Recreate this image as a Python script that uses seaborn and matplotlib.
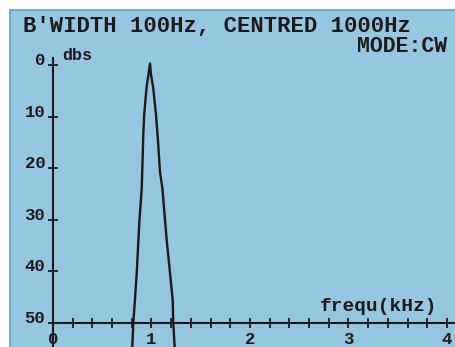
import matplotlib
matplotlib.use("Agg")
import matplotlib.pyplot as plt
import matplotlib.patches as patches
import numpy as np
import pandas as pd
import seaborn as sns

# spectrum trace (kHz, dB below peak)
freq_khz = [0.802, 0.815, 0.832, 0.850, 0.876, 0.901, 0.911, 0.917, 0.927, 0.951, 0.985,
            0.995, 1.018, 1.046, 1.069, 1.086, 1.110, 1.154, 1.188, 1.215, 1.221, 1.239]
level_db = [56.0, 50.0, 45.5, 40.3, 30.6, 23.8, 17.4, 13.2, 9.3, 4.2, -0.3,
            1.9, 4.5, 9.7, 15.5, 20.7, 23.8, 33.9, 40.3, 45.5, 50.0, 56.0]
y_ticks = [0, 10, 20, 30, 40, 50]
x_ticks = [0, 1, 2, 3, 4]
x_minor = [0.2 * i for i in range(21)]

title = "B'WIDTH 100Hz, CENTRED 1000Hz"
mode = "MODE:CW"
ink = "#1b1b1b"
screen = "#97c7e0"

sns.set_theme(style="white")
plt.rcParams["font.family"] = ["Liberation Mono", "DejaVu Sans Mono"]
plt.rcParams["font.weight"] = "bold"

W, H = 455, 347
fig = plt.figure(figsize=(W / 100, H / 100), dpi=100)
fig.patch.set_facecolor("white")
fig.patches.append(patches.Rectangle((10 / W, -0.05), 1.1, 1 - 10 / H + 0.05,
                                     transform=fig.transFigure, facecolor=screen,
                                     edgecolor="#5b9fc6", linewidth=1.2, zorder=-5))

ax = fig.add_axes([0, 0, 1, 1])
ax.set_zorder(2)
ax.set_facecolor("none")
df = pd.DataFrame({"freq": freq_khz, "db": level_db})
sns.lineplot(data=df, x="freq", y="db", sort=False, estimator=None,
             color=ink, linewidth=1.7, ax=ax)

# pixel mapping: 0 kHz at x=53, 98.5 px/kHz; 0 dB at y=65, 5.16 px/dB
ax.set_xlim(-53 / 98.5, (W - 53) / 98.5)
ax.set_ylim((H - 65) / 5.16, -65 / 5.16)

for s in ["top", "right"]:
    ax.spines[s].set_visible(False)
ax.spines["left"].set_position(("data", 0))
ax.spines["bottom"].set_position(("data", 50))
ax.spines["left"].set_bounds(-1.4, 60)
ax.spines["bottom"].set_bounds(0, 5)
for s in ["left", "bottom"]:
    ax.spines[s].set_color(ink)
    ax.spines[s].set_linewidth(1.5)

ax.set_yticks(y_ticks)
ax.set_yticklabels([str(v) for v in y_ticks], fontsize=12.5, color=ink)
for lbl in ax.get_yticklabels():
    lbl.set_va("baseline")
ax.set_xticks(x_ticks)
ax.set_xticklabels([str(v) for v in x_ticks], fontsize=12.5, color=ink)
ax.set_xticks(x_minor, minor=True)
ax.tick_params(axis="both", which="both", direction="inout", length=7,
               width=1.3, color=ink, left=True, bottom=True)
ax.tick_params(axis="y", pad=2)
ax.tick_params(axis="x", pad=3)
ax.set_xlabel("")
ax.set_ylabel("")

fig.text(23 / W, 1 - 32 / H, title, fontsize=16, color=ink, va="baseline")
fig.text(447 / W, 1 - 52 / H, mode, fontsize=15.5, color=ink, va="baseline", ha="right")
fig.text(62 / W, 1 - 60 / H, "dbs", fontsize=12, color=ink, va="baseline")
fig.text(437 / W, 1 - 311 / H, "frequ(kHz)", fontsize=14, color=ink,
         va="baseline", ha="right")

fig.savefig("out.png", dpi=100, facecolor="white")
